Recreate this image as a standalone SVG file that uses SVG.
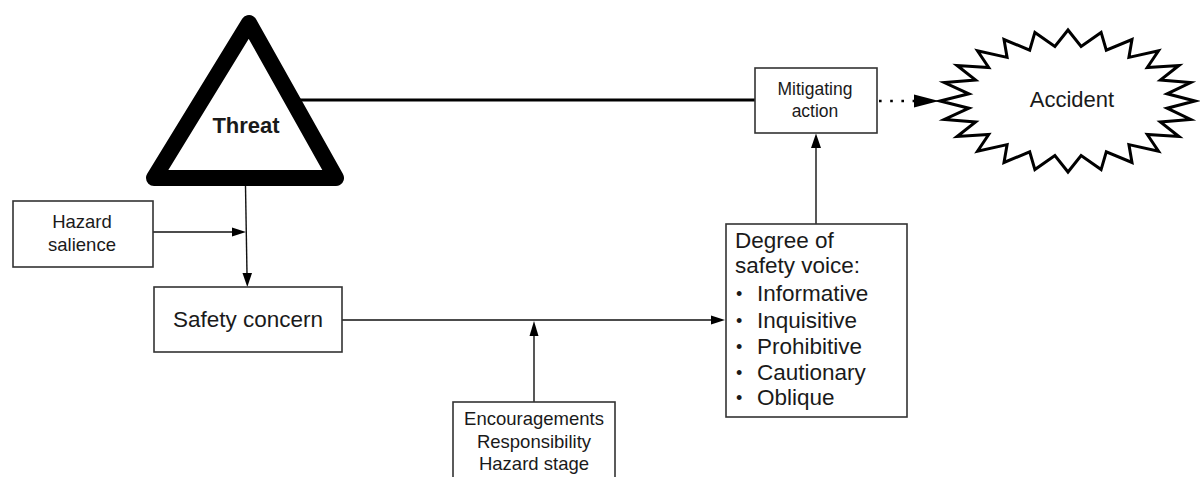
<svg xmlns="http://www.w3.org/2000/svg" width="1200" height="477" viewBox="0 0 1200 477">
  <style>
    .box { fill: #ffffff; stroke: #333333; stroke-width: 1.6; }
    .lbl { font-family: "Liberation Sans", Arial, sans-serif; fill: #1a1a1a; }
    .mid { text-anchor: middle; }
    .wire { stroke: #111111; stroke-width: 1.4; fill: none; }
    .head { fill: #000000; stroke: none; }
    .dot { font-size: 18px; }
  </style>
  <rect width="1200" height="477" fill="#ffffff"/>

  <!-- connectors -->
  <g id="connectors">
    <!-- threat to mitigating action -->
    <line x1="295" y1="100" x2="755" y2="100" stroke="#000" stroke-width="3"/>
    <!-- mitigating action to accident (dotted) -->
    <line x1="879" y1="101" x2="914" y2="101" stroke="#000" stroke-width="2.6" stroke-dasharray="2.6 8.6"/>
    <polygon class="head" points="914,94.5 939,101 914,107.5"/>
    <!-- hazard salience into threat/concern link -->
    <line class="wire" x1="153" y1="232" x2="233" y2="232"/>
    <polygon class="head" points="232,227.5 246,232 232,236.5"/>
    <!-- threat down to safety concern -->
    <line class="wire" x1="245.5" y1="186" x2="247" y2="274"/>
    <polygon class="head" points="242.5,273 247.3,287 252,273"/>
    <!-- safety concern to degree of safety voice -->
    <line class="wire" x1="342" y1="320" x2="712" y2="320"/>
    <polygon class="head" points="711,315.5 725,320 711,324.5"/>
    <!-- moderators up to the concern/voice link -->
    <line class="wire" x1="534" y1="402" x2="534" y2="335"/>
    <polygon class="head" points="529.5,336 534,321 538.5,336"/>
    <!-- degree of safety voice up to mitigating action -->
    <line class="wire" x1="816" y1="224" x2="816" y2="147"/>
    <polygon class="head" points="811,148 816,133.5 821,148"/>
  </g>

  <!-- threat triangle -->
  <g id="threat">
    <polygon points="249,23 336,178 154,178" fill="#ffffff" stroke="#000" stroke-width="16" stroke-linejoin="round"/>
    <text class="lbl mid" x="246" y="133" font-size="22" font-weight="bold">Threat</text>
  </g>

  <!-- mitigating action -->
  <g id="mitigating-action">
    <rect class="box" x="755" y="68" width="122" height="65"/>
    <text class="lbl mid" x="815" y="95" font-size="17.5">Mitigating</text>
    <text class="lbl mid" x="815" y="117" font-size="17.5">action</text>
  </g>

  <!-- accident starburst -->
  <g id="accident">
    <polygon fill="#ffffff" stroke="#000" stroke-width="3" stroke-miterlimit="6" points="1195,101 1167.1,93.8 1190.6,82.6 1160.4,80 1178.9,65.5 1147.3,67.5 1158.5,50.8 1128.9,57.4 1132,39.5 1106.3,50.2 1101.1,32.4 1081.1,46.5 1068,30 1054.9,46.5 1034.9,32.4 1029.7,50.2 1004,39.5 1007.1,57.4 977.5,50.8 988.7,67.5 957.1,65.5 975.6,80 944.4,82.6 968.9,93.8 940,101 968.9,108.2 944.4,119.4 975.6,122 957.1,136.5 988.7,134.5 977.5,151.2 1007.1,144.6 1004,162.5 1029.7,151.8 1034.9,169.6 1054.9,155.5 1068,172 1081.1,155.5 1101.1,169.6 1106.3,151.8 1132,162.5 1128.9,144.6 1158.5,151.2 1147.3,134.5 1178.9,136.5 1160.4,122 1190.6,119.4 1167.1,108.2"/>
    <text class="lbl mid" x="1072" y="107" font-size="22">Accident</text>
  </g>

  <!-- hazard salience -->
  <g id="hazard-salience">
    <rect class="box" x="13" y="201" width="140" height="66"/>
    <text class="lbl mid" x="82" y="228" font-size="18.5">Hazard</text>
    <text class="lbl mid" x="82" y="251" font-size="18.5">salience</text>
  </g>

  <!-- safety concern -->
  <g id="safety-concern">
    <rect class="box" x="154" y="287" width="188" height="65"/>
    <text class="lbl mid" x="248" y="327" font-size="22.5">Safety concern</text>
  </g>

  <!-- moderating factors -->
  <g id="moderators">
    <rect class="box" x="453" y="402" width="162" height="90"/>
    <text class="lbl mid" x="534" y="425" font-size="18.5">Encouragements</text>
    <text class="lbl mid" x="534" y="448" font-size="18.5">Responsibility</text>
    <text class="lbl mid" x="534" y="470" font-size="18.5">Hazard stage</text>
  </g>

  <!-- degree of safety voice -->
  <g id="safety-voice">
    <rect class="box" x="726" y="224" width="181" height="193"/>
    <text class="lbl" x="735" y="248" font-size="22.5">Degree of</text>
    <text class="lbl" x="735" y="273" font-size="22.5">safety voice:</text>
    <g font-size="22.5">
      <text class="lbl dot" x="736" y="300">•</text>
      <text class="lbl" x="757" y="301">Informative</text>
      <text class="lbl dot" x="736" y="327">•</text>
      <text class="lbl" x="757" y="328">Inquisitive</text>
      <text class="lbl dot" x="736" y="353">•</text>
      <text class="lbl" x="757" y="354">Prohibitive</text>
      <text class="lbl dot" x="736" y="379">•</text>
      <text class="lbl" x="757" y="380">Cautionary</text>
      <text class="lbl dot" x="736" y="404">•</text>
      <text class="lbl" x="757" y="405">Oblique</text>
    </g>
  </g>
</svg>
